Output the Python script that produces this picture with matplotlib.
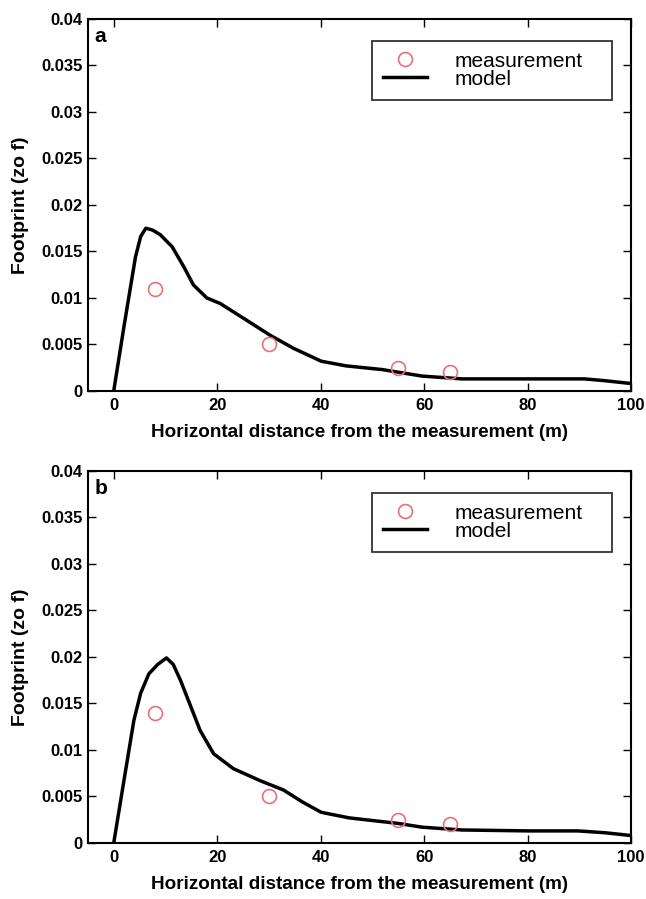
import matplotlib
matplotlib.use("Agg")
import matplotlib.pyplot as plt

plt.rcParams['font.family'] = ['Liberation Sans', 'DejaVu Sans']

# measurement points (same positions in both panels)
meas_x = [8, 30, 55, 65]
meas_a = [0.011, 0.005, 0.0025, 0.002]
meas_b = [0.014, 0.005, 0.0025, 0.002]

# model curve, panel a
model_xa = [0, 2, 4.2, 5.2, 6.2, 7.5, 9, 11.3, 13.5, 15.4, 18, 20.6, 25.7, 30.2,
            34.7, 40.1, 44.9, 51.9, 59.6, 67.3, 80, 91, 95, 100]
model_ya = [0, 0.007, 0.0144, 0.0166, 0.0175, 0.0173, 0.0168, 0.0155, 0.0134, 0.0114,
            0.0100, 0.0094, 0.0076, 0.0060, 0.0046, 0.0032, 0.0027, 0.0023, 0.0016,
            0.0013, 0.0013, 0.0013, 0.0011, 0.0008]

# model curve, panel b
model_xb = [0, 2, 3.9, 5.2, 6.8, 8.5, 10.2, 11.5, 12.9, 14.8, 16.7, 19.3, 23.1, 28.3,
            32.8, 36.5, 40.1, 45.5, 55, 59.6, 67.3, 80, 89.7, 95, 100]
model_yb = [0, 0.0068, 0.0132, 0.0161, 0.0182, 0.0192, 0.0199, 0.0192, 0.0175, 0.0148,
            0.0121, 0.0096, 0.0080, 0.0067, 0.0057, 0.0044, 0.0033, 0.0027, 0.0021,
            0.0017, 0.0014, 0.0013, 0.0013, 0.0011, 0.0008]

fig = plt.figure(figsize=(6.46, 8.99), dpi=100)
ax1 = fig.add_axes([0.136, 0.5651, 0.841, 0.4138])
ax2 = fig.add_axes([0.136, 0.0623, 0.841, 0.4138])

for ax, my, mx, yy, tag in [(ax1, meas_a, model_xa, model_ya, 'a'),
                            (ax2, meas_b, model_xb, model_yb, 'b')]:
    ax.plot(meas_x, my, 'o', mfc='none', mec='#e8707a', ms=10, mew=1.2,
            label='measurement', zorder=3)
    ax.plot(mx, yy, color='black', lw=2.5, label='model')
    ax.set_xlim(-5, 100)
    ax.set_ylim(0, 0.04)
    ax.set_xticks([0, 20, 40, 60, 80, 100])
    ax.set_yticks([0, 0.005, 0.01, 0.015, 0.02, 0.025, 0.03, 0.035, 0.04])
    ax.set_yticklabels(['0', '0.005', '0.01', '0.015', '0.02', '0.025', '0.03', '0.035', '0.04'])
    ax.tick_params(direction='in', top=True, right=True, length=6, width=1,
                   labelsize=12)
    ax.tick_params(axis='x', pad=5)
    for lab in ax.get_xticklabels() + ax.get_yticklabels():
        lab.set_fontweight('bold')
    for s in ax.spines.values():
        s.set_linewidth(1.5)
    ax.set_xlabel('Horizontal distance from the measurement (m)', fontsize=13.6,
                  fontweight='bold', labelpad=8)
    ax.set_ylabel('Footprint (zo f)', fontsize=14, fontweight='bold', labelpad=9)
    ax.text(0.012, 0.978, tag, transform=ax.transAxes, fontsize=15,
            fontweight='bold', va='top', ha='left')
    leg = ax.legend(loc='upper left', bbox_to_anchor=(0.523, 0.78, 0.442, 0.162),
                    mode='expand', fontsize=15,
                    frameon=True, fancybox=False, edgecolor='black',
                    handlelength=2.1, handletextpad=1.35, labelspacing=-0.05,
                    borderpad=0.53, borderaxespad=0)
    leg.get_frame().set_linewidth(1.3)

fig.savefig('out.png', dpi=100)
